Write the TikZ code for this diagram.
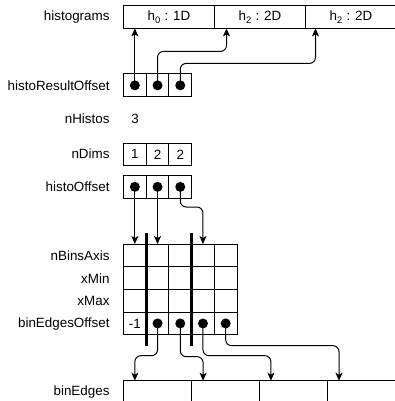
\documentclass[tikz,border=0pt]{standalone}
\usepackage{fontspec}
\setmainfont{Liberation Sans}
\usetikzlibrary{arrows.meta,calc}
\begin{document}
\begin{tikzpicture}[x=1pt,y=-1pt,
  every node/.style={font=\fontsize{13.4}{15}\selectfont, inner sep=0pt, outer sep=0pt},
  cell/.style={draw, line width=1pt, minimum width=22.7pt, minimum height=22.7pt, anchor=north west},
  hcell/.style={draw, line width=1pt, minimum width=91pt, minimum height=22.4pt, anchor=north west},
  bcell/.style={draw, line width=1pt, minimum width=68.1pt, minimum height=22.7pt, anchor=north west},
  lbl/.style={anchor=east},
  dot/.style={circle, fill=black, minimum size=10pt, inner sep=0pt},
  arr/.style={-{Stealth[length=8pt,width=7pt,inset=2pt]}, line width=1pt, rounded corners=6pt},
  sep/.style={line width=3pt}
]
\useasboundingbox (0,0) rectangle (394,401);

% labels
\node[lbl] (lhist) at (109.5,17) {histograms};
\node[lbl] (lhro) at (109.5,86) {histoResultOffset};
\node[lbl] (lnh) at (109.5,119) {nHistos};
\node[lbl] (lnd) at (109.5,154) {nDims};
\node[lbl] (lho) at (109.5,187) {histoOffset};
\node[lbl] (lnba) at (109.5,255.5) {nBinsAxis};
\node[lbl] (lxmin) at (109.5,278.2) {xMin};
\node[lbl] (lxmax) at (109.5,300.9) {xMax};
\node[lbl] (lbeo) at (109.5,323.6) {binEdgesOffset};
\node[lbl] (lbe) at (109.5,392) {binEdges};

% histograms
\node[hcell] (h0) at (123.5,6) {h\textsubscript{0} : 1D};
\node[hcell] (h1) at (214.5,6) {h\textsubscript{2} : 2D};
\node[hcell] (h2) at (305.5,6) {h\textsubscript{2} : 2D};

% histoResultOffset
\foreach \i in {0,1,2} {
  \node[cell] (r\i) at (123.5+22.7*\i,74) {};
  \node[dot] (rd\i) at (r\i.center) {};
}

% nHistos
\node (nh) at (135,119) {3};

% nDims
\node[cell] (d0) at (123.5,143) {1};
\node[cell] (d1) at (146.2,143) {2};
\node[cell] (d2) at (168.9,143) {2};

% histoOffset
\foreach \i in {0,1,2} {
  \node[cell] (o\i) at (123.5+22.7*\i,175.5) {};
  \node[dot] (od\i) at (o\i.center) {};
}

% grid
\foreach \r in {0,1,2,3} {
  \foreach \c in {0,1,2,3,4} {
    \node[cell] (g\r\c) at (123.5+22.7*\c,244+22.7*\r) {};
  }
}
\node at (g30.center) {-1};
\foreach \c in {1,2,3,4} {
  \node[dot] (gd\c) at (g3\c.center) {};
}

% separators
\draw[sep] ($(g00.north east)+(0,-11)$) -- ($(g30.south east)+(0,11)$);
\draw[sep] ($(g02.north east)+(0,-11)$) -- ($(g32.south east)+(0,11)$);

% binEdges
\foreach \k in {0,1,2,3} {
  \node[bcell] (b\k) at (123.5+68.1*\k,380.7) {};
}

% arrows histoResultOffset -> histograms
\draw[arr] (rd0.center) -- (rd0.center |- h0.south);
\draw[arr] (rd1.center) |- ($(h1.south west)+(12,23)$) -- ($(h1.south west)+(12,0)$);
\draw[arr] (rd2.center) |- ($(h2.south west)+(10,35)$) -- ($(h2.south west)+(10,0)$);

% arrows histoOffset -> grid
\draw[arr] (od0.center) -- (g00.north);
\draw[arr] (od1.center) -- (g01.north);
\draw[arr] (od2.center) |- ($(g03.north)+(0,-37)$) -- (g03.north);

% arrows binEdgesOffset -> binEdges
\draw[arr] (gd1.center) |- ($(b0.north west)+(11.35,-25)$) -- ($(b0.north west)+(11.35,0)$);
\draw[arr] (gd2.center) |- ($(b1.north west)+(11.5,-24)$) -- ($(b1.north west)+(11.5,0)$);
\draw[arr] (gd3.center) |- ($(b2.north west)+(11.2,-25)$) -- ($(b2.north west)+(11.2,0)$);
\draw[arr] (gd4.center) |- ($(b3.north west)+(11.2,-35)$) -- ($(b3.north west)+(11.2,0)$);
\end{tikzpicture}
\end{document}
